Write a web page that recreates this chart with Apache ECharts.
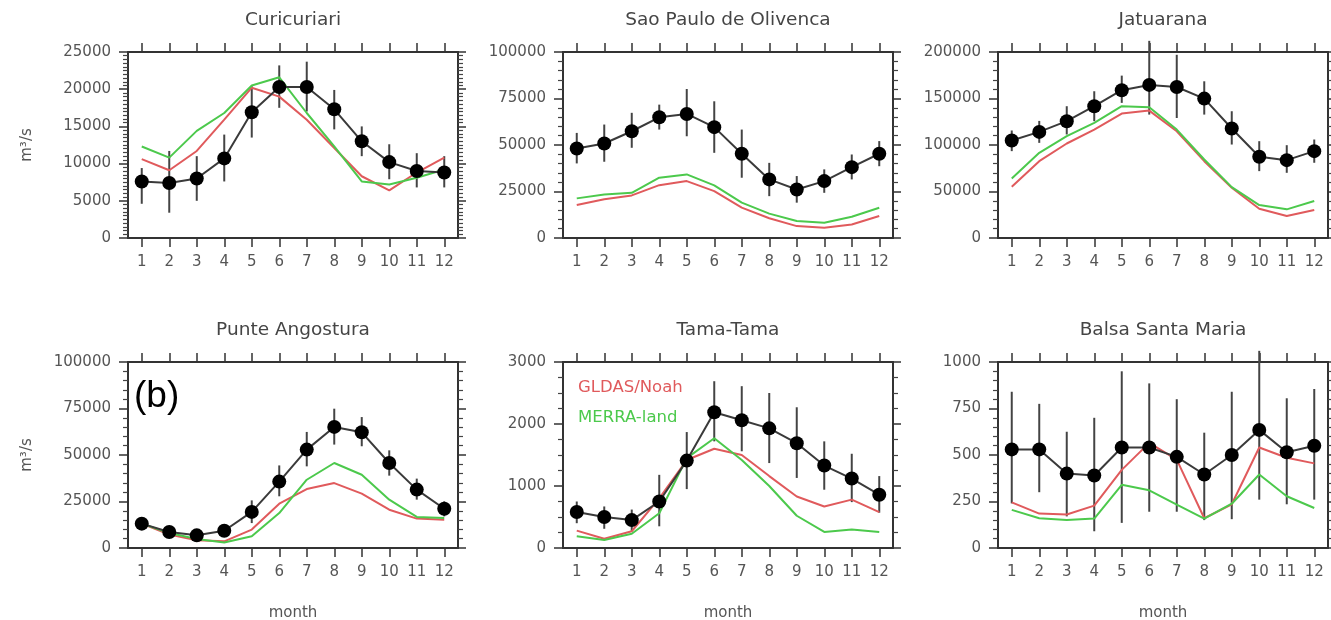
<!DOCTYPE html>
<html>
<head>
<meta charset="utf-8">
<script src="https://cdn.jsdelivr.net/npm/echarts@6/dist/echarts.min.js"></script>
<style>
html,body{margin:0;padding:0;background:#fff;}
#chart{width:1331px;height:620px;}
</style>
</head>
<body>
<div id="chart"></div>
<script>
// ---- data ----
const months = ['1','2','3','4','5','6','7','8','9','10','11','12'];
const stationNames = ['Curicuriari','Sao Paulo de Olivenca','Jatuarana','Punte Angostura','Tama-Tama','Balsa Santa Maria'];

const curicuriariObs   = [7600, 7400, 8000, 10700, 16900, 20300, 20300, 17300, 13000, 10200, 9000, 8800];
const curicuriariLow   = [4600, 3400, 5000, 7600, 13500, 17500, 17000, 14600, 11000, 7900, 6800, 6800];
const curicuriariHigh  = [9400, 11700, 11000, 13900, 20400, 23200, 23700, 19900, 15000, 12600, 11400, 11000];
const curicuriariGldas = [10600, 9100, 11700, 15900, 20200, 19000, 15900, 12100, 8300, 6400, 8800, 10800];
const curicuriariMerra = [12300, 10800, 14400, 16800, 20500, 21600, 16800, 12300, 7600, 7200, 8100, 9200];

const saoPauloObs   = [48100, 50800, 57400, 64900, 66700, 59600, 45300, 31500, 26100, 30600, 38100, 45300];
const saoPauloLow   = [40100, 41000, 48500, 58300, 54700, 45800, 32400, 22500, 19000, 24300, 31500, 38600];
const saoPauloHigh  = [56500, 61000, 67300, 71700, 80100, 73500, 58300, 40400, 33300, 36900, 44900, 52100];
const saoPauloGldas = [17700, 20800, 22900, 28400, 30600, 25200, 16300, 10600, 6400, 5500, 7300, 11800];
const saoPauloMerra = [21300, 23400, 24300, 32400, 34200, 28300, 19000, 13100, 9100, 8200, 11400, 16300];

const jatuaranaObs   = [104800, 114100, 125600, 141700, 158900, 164600, 162400, 149900, 117700, 87300, 83700, 93400];
const jatuaranaLow   = [93400, 102300, 111300, 125600, 145300, 132700, 129000, 132700, 100500, 71900, 70100, 80900];
const jatuaranaHigh  = [115600, 125900, 141700, 157800, 174600, 212000, 197000, 168500, 136300, 104100, 99800, 105900];
const jatuaranaGldas = [55100, 82600, 101600, 116600, 133800, 137000, 114800, 82600, 54000, 31500, 23600, 30100];
const jatuaranaMerra = [64000, 91600, 109500, 123800, 141700, 140600, 116600, 84400, 54700, 35400, 30800, 39700];

const angosturaObs   = [13100, 8600, 6800, 9300, 19400, 35700, 52900, 65100, 62200, 45700, 31400, 21100];
const angosturaLow   = [11000, 6500, 4800, 7000, 13400, 27800, 43900, 55600, 54700, 38900, 26000, 17000];
const angosturaHigh  = [15300, 10700, 8800, 11600, 25600, 44400, 62400, 74900, 70400, 52500, 37300, 25100];
const angosturaGldas = [13100, 7200, 4100, 3600, 9900, 23800, 31700, 34900, 29200, 20600, 15800, 15200];
const angosturaMerra = [13100, 8100, 4800, 3000, 6300, 18800, 36700, 45700, 39400, 26000, 16700, 16100];

const tamaObs   = [580, 500, 450, 750, 1410, 2190, 2060, 1930, 1690, 1330, 1120, 860];
const tamaLow   = [400, 310, 270, 350, 950, 1720, 1560, 1370, 1130, 940, 740, 570];
const tamaHigh  = [750, 670, 620, 1180, 1870, 2690, 2610, 2500, 2270, 1720, 1520, 1160];
const tamaGldas = [280, 150, 270, 800, 1420, 1600, 1500, 1160, 830, 670, 780, 580];
const tamaMerra = [190, 130, 230, 560, 1450, 1770, 1420, 1000, 520, 260, 300, 260];

const balsaObs   = [530, 530, 400, 390, 540, 540, 490, 395, 500, 635, 515, 550];
const balsaLow   = [240, 300, 170, 90, 135, 195, 195, 150, 155, 260, 235, 260];
const balsaHigh  = [840, 775, 625, 700, 950, 885, 800, 620, 840, 1060, 805, 855];
const balsaGldas = [245, 185, 180, 228, 420, 565, 475, 160, 235, 540, 485, 455];
const balsaMerra = [205, 160, 150, 158, 340, 310, 233, 158, 238, 395, 278, 215];

const yMax      = [25000, 100000, 200000, 100000, 3000, 1000];
const yInterval = [5000, 25000, 50000, 25000, 1000, 250];
const yMinorSplit = [10, 5, 5, 5, 4, 5];

const legendNames = ['GLDAS/Noah', 'MERRA-land'];
const yAxisTitle = 'm\u00b3/s';
const xAxisTitle = 'month';
const panelTag = '(b)';

// ---- layout / style ----
const panels = [
  {obs: curicuriariObs, low: curicuriariLow, high: curicuriariHigh, gldas: curicuriariGldas, merra: curicuriariMerra},
  {obs: saoPauloObs, low: saoPauloLow, high: saoPauloHigh, gldas: saoPauloGldas, merra: saoPauloMerra},
  {obs: jatuaranaObs, low: jatuaranaLow, high: jatuaranaHigh, gldas: jatuaranaGldas, merra: jatuaranaMerra},
  {obs: angosturaObs, low: angosturaLow, high: angosturaHigh, gldas: angosturaGldas, merra: angosturaMerra},
  {obs: tamaObs, low: tamaLow, high: tamaHigh, gldas: tamaGldas, merra: tamaMerra},
  {obs: balsaObs, low: balsaLow, high: balsaHigh, gldas: balsaGldas, merra: balsaMerra}
];
const colLeft = [128, 563, 998];
const rowTop = [52, 362];
const gridW = 330, gridH = 186;
const FONT = '"DejaVu Sans", sans-serif';
const AXIS_COLOR = '#333';
const LABEL_COLOR = '#555';
const RED = '#e05a5c';
const GREEN = '#4cc94c';

const grids = [], xAxes = [], yAxes = [], series = [], graphics = [];

panels.forEach((p, i) => {
  const col = i % 3, row = Math.floor(i / 3);
  const left = colLeft[col], top = rowTop[row];
  grids.push({left: left, top: top, width: gridW, height: gridH, containLabel: false});
  const axisLine = {show: true, onZero: false, lineStyle: {color: AXIS_COLOR, width: 2}};
  // bottom x
  xAxes.push({
    type: 'category', gridIndex: i, data: months, position: 'bottom', boundaryGap: true,
    axisLine: axisLine,
    axisTick: {show: true, alignWithLabel: true, inside: false, length: 9, lineStyle: {color: AXIS_COLOR, width: 1.5}},
    axisLabel: {show: true, margin: 17, color: LABEL_COLOR, fontSize: 15, fontFamily: FONT, interval: 0},
    splitLine: {show: false}
  });
  // top x
  xAxes.push({
    type: 'category', gridIndex: i, data: months, position: 'top', boundaryGap: true,
    axisLine: axisLine,
    axisTick: {show: true, alignWithLabel: true, inside: false, length: 9, lineStyle: {color: AXIS_COLOR, width: 1.5}},
    axisLabel: {show: false},
    splitLine: {show: false}
  });
  // left y
  yAxes.push({
    type: 'value', gridIndex: i, position: 'left', min: 0, max: yMax[i], interval: yInterval[i],
    axisLine: axisLine,
    axisTick: {show: true, inside: false, length: 9, lineStyle: {color: AXIS_COLOR, width: 1.5}},
    minorTick: {show: true, splitNumber: yMinorSplit[i], length: 5, lineStyle: {color: '#444', width: 1.2}},
    axisLabel: {show: true, margin: 17, color: LABEL_COLOR, fontSize: 15, fontFamily: FONT,
                formatter: function (v) { return String(v); }},
    splitLine: {show: false}, minorSplitLine: {show: false}
  });
  // right y
  yAxes.push({
    type: 'value', gridIndex: i, position: 'right', min: 0, max: yMax[i], interval: yInterval[i],
    axisLine: axisLine,
    axisTick: {show: true, inside: false, length: 8, lineStyle: {color: AXIS_COLOR, width: 1.5}},
    minorTick: {show: true, splitNumber: yMinorSplit[i], length: 5, lineStyle: {color: '#444', width: 1.2}},
    axisLabel: {show: false},
    splitLine: {show: false}, minorSplitLine: {show: false}
  });
  const xi = 2 * i, yi = 2 * i;
  series.push({
    type: 'custom', xAxisIndex: xi, yAxisIndex: yi, clip: false, z: 2,
    data: months.map((m, k) => [k, p.low[k], p.high[k]]),
    encode: {x: 0, y: [1, 2]},
    renderItem: function (params, api) {
      const k = api.value(0);
      const a = api.coord([k, api.value(1)]);
      const b = api.coord([k, api.value(2)]);
      return {type: 'line', shape: {x1: a[0], y1: a[1], x2: b[0], y2: b[1]},
              style: {stroke: '#444', lineWidth: 2}};
    }
  });
  series.push({
    type: 'line', name: legendNames[0], xAxisIndex: xi, yAxisIndex: yi, data: p.gldas,
    showSymbol: false, symbol: 'none', z: 3,
    lineStyle: {color: RED, width: 2}, itemStyle: {color: RED}, animation: false
  });
  series.push({
    type: 'line', name: legendNames[1], xAxisIndex: xi, yAxisIndex: yi, data: p.merra,
    showSymbol: false, symbol: 'none', z: 3,
    lineStyle: {color: GREEN, width: 2}, itemStyle: {color: GREEN}, animation: false
  });
  series.push({
    type: 'line', name: 'obs', xAxisIndex: xi, yAxisIndex: yi, data: p.obs,
    symbol: 'circle', symbolSize: 14, showSymbol: true, z: 5,
    lineStyle: {color: '#3a3a3a', width: 2}, itemStyle: {color: '#000', borderWidth: 0}, animation: false
  });
  // title
  graphics.push({
    type: 'text', x: left + gridW / 2, y: top - 32, z: 10,
    style: {text: stationNames[i], fill: '#454545', fontSize: 18.5, fontFamily: FONT,
            align: 'center', verticalAlign: 'middle', textAlign: 'center', textVerticalAlign: 'middle'}
  });
  if (col === 0) {
    graphics.push({
      type: 'text', x: 27, y: top + gridH / 2, rotation: Math.PI / 2, z: 10,
      style: {text: yAxisTitle, fill: LABEL_COLOR, fontSize: 15, fontFamily: FONT,
              align: 'center', verticalAlign: 'middle', textAlign: 'center', textVerticalAlign: 'middle'}
    });
  }
  if (row === 1) {
    graphics.push({
      type: 'text', x: left + gridW / 2, y: 613, z: 10,
      style: {text: xAxisTitle, fill: LABEL_COLOR, fontSize: 15, fontFamily: FONT,
              align: 'center', verticalAlign: 'middle', textAlign: 'center', textVerticalAlign: 'middle'}
    });
  }
});

// legend text inside Tama-Tama panel
graphics.push({type: 'text', x: 578, y: 388, z: 10,
  style: {text: legendNames[0], fill: RED, fontSize: 16.5, fontFamily: FONT,
          align: 'left', verticalAlign: 'middle', textAlign: 'left', textVerticalAlign: 'middle'}});
graphics.push({type: 'text', x: 578, y: 418, z: 10,
  style: {text: legendNames[1], fill: GREEN, fontSize: 16.5, fontFamily: FONT,
          align: 'left', verticalAlign: 'middle', textAlign: 'left', textVerticalAlign: 'middle'}});
// panel tag
graphics.push({type: 'text', x: 134, y: 397, z: 10,
  style: {text: panelTag, fill: '#000', fontSize: 37, fontFamily: '"Liberation Sans", sans-serif',
          align: 'left', verticalAlign: 'middle', textAlign: 'left', textVerticalAlign: 'middle'}});

const chart = echarts.init(document.getElementById('chart'), null, {renderer: 'canvas'});
chart.setOption({
  animation: false,
  backgroundColor: '#fff',
  textStyle: {fontFamily: FONT},
  grid: grids,
  xAxis: xAxes,
  yAxis: yAxes,
  series: series,
  graphic: graphics
});
</script>
</body>
</html>
